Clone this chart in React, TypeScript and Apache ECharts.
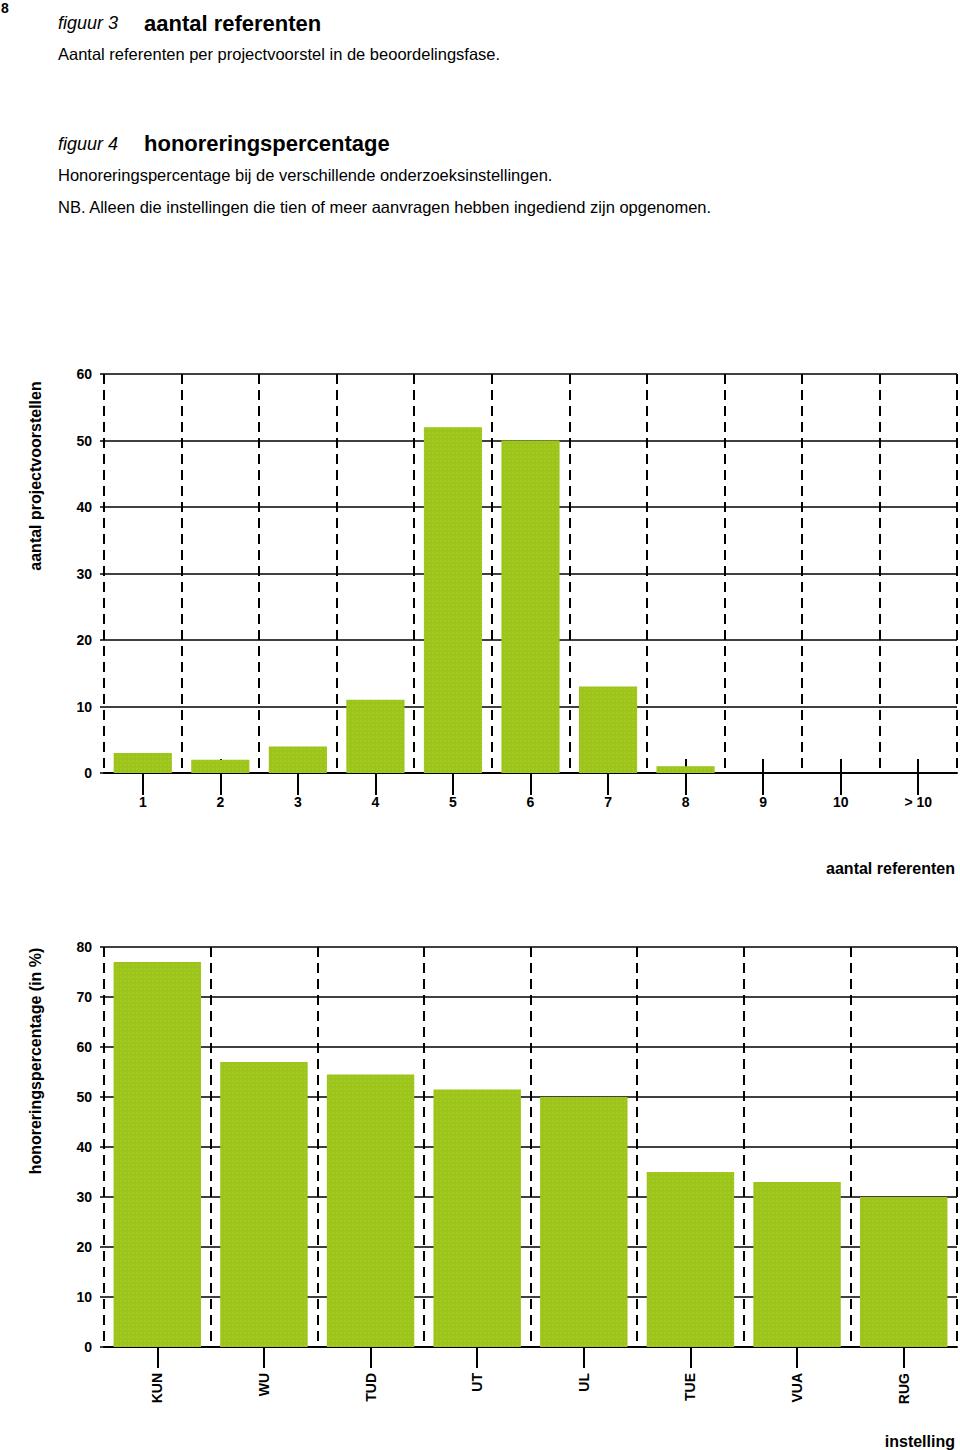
import React, { useEffect, useRef } from "react";
import * as echarts from "echarts";

// ---- data ----
const refCategories = ["1", "2", "3", "4", "5", "6", "7", "8", "9", "10", "> 10"];
const refValues = [3, 2, 4, 11, 52, 50, 13, 1, 0, 0, 0];
const refYMin = 0;
const refYMax = 60;
const refYInterval = 10;

const instCategories = ["KUN", "WU", "TUD", "UT", "UL", "TUE", "VUA", "RUG"];
const instValues = [77, 57, 54.5, 51.5, 50, 35, 33, 30];
const instYMin = 0;
const instYMax = 80;
const instYInterval = 10;

const FONT = "Liberation Sans, Arial, Helvetica, sans-serif";

export default function App() {
  const ref = useRef<HTMLDivElement>(null);

  useEffect(() => {
    if (!ref.current) return;
    const chart = echarts.init(ref.current, undefined, { renderer: "svg" });

    const dashed = { color: "#000", width: 2, type: [10, 6] as any };
    const solid = { color: "#000", width: 1.5 };
    const labelFont = { fontFamily: FONT, fontWeight: "bold" as const, fontSize: 14, color: "#000" };
    const barStyle = {
      color: "#9cc41a",
      decal: {
        symbol: "rect",
        symbolSize: 0.6,
        dashArrayX: 2,
        dashArrayY: 2,
        color: "rgba(200,232,80,0.55)",
      },
    };

    const mainX = (gridIndex: number, data: string[], outLen: number, margin: number, rotate: number) => ({
      type: "category",
      gridIndex,
      data,
      position: "bottom",
      boundaryGap: true,
      axisLine: { show: true, lineStyle: { color: "#000", width: 2 } },
      axisTick: { show: true, alignWithLabel: true, length: outLen, lineStyle: { color: "#000", width: 2 } },
      axisLabel: { ...labelFont, margin, interval: 0, rotate },
      splitLine: { show: true, interval: 0, lineStyle: dashed },
    });
    const helperX = (gridIndex: number, data: string[], inLen: number) => ({
      type: "category",
      gridIndex,
      data,
      position: "bottom",
      boundaryGap: true,
      axisLine: { show: true, lineStyle: { color: "#000", width: 0, opacity: 0 } },
      axisTick: { show: true, inside: true, alignWithLabel: true, length: inLen, lineStyle: { color: "#000", width: 2 } },
      axisLabel: { show: false },
      splitLine: { show: false },
    });
    const yAx = (gridIndex: number, min: number, max: number, interval: number) => ({
      type: "value",
      gridIndex,
      min,
      max,
      interval,
      axisLine: { show: false },
      axisTick: { show: true, length: 4, lineStyle: { color: "#000", width: 1.5 } },
      axisLabel: { ...labelFont, margin: 12 },
      splitLine: { show: true, lineStyle: solid },
    });

    const txt = (text: string, x: number, y: number, size: number, opts: any = {}) => ({
      type: "text",
      x,
      y,
      rotation: opts.rotation || 0,
      style: {
        text,
        fontFamily: FONT,
        fontSize: size,
        fontWeight: opts.weight || "normal",
        fontStyle: opts.style || "normal",
        fill: "#000",
        align: opts.align || "left",
        verticalAlign: "middle",
      },
    });

    chart.setOption({
      animation: false,
      backgroundColor: "#ffffff",
      grid: [
        { left: 104, right: 3, top: 374, height: 399 },
        { left: 104, right: 3, top: 947, height: 400 },
      ],
      xAxis: [
        mainX(0, refCategories, 22, 22, 0),
        helperX(0, refCategories, 14),
        mainX(1, instCategories, 21, 26, 90),
        helperX(1, instCategories, 9),
      ],
      yAxis: [yAx(0, refYMin, refYMax, refYInterval), yAx(1, instYMin, instYMax, instYInterval)],
      series: [
        {
          type: "bar",
          xAxisIndex: 0,
          yAxisIndex: 0,
          data: refValues,
          barCategoryGap: "25%",
          itemStyle: barStyle,
          z: 5,
        },
        {
          type: "bar",
          xAxisIndex: 2,
          yAxisIndex: 1,
          data: instValues,
          barCategoryGap: "18%",
          itemStyle: barStyle,
          z: 5,
        },
      ],
      graphic: [
        txt("8", 1, 8, 14, { weight: "bold" }),
        txt("figuur 3", 58, 23, 18, { style: "italic" }),
        txt("aantal referenten", 144, 23, 22, { weight: "bold" }),
        txt("Aantal referenten per projectvoorstel in de beoordelingsfase.", 58, 54, 16.5),
        txt("figuur 4", 58, 144, 18, { style: "italic" }),
        txt("honoreringspercentage", 144, 143, 22, { weight: "bold" }),
        txt("Honoreringspercentage bij de verschillende onderzoeksinstellingen.", 58, 175, 16.5),
        txt("NB. Alleen die instellingen die tien of meer aanvragen hebben ingediend zijn opgenomen.", 58, 207, 16.5),
        txt("aantal projectvoorstellen", 35, 476, 16, { weight: "bold", rotation: Math.PI / 2, align: "center" }),
        txt("honoreringspercentage (in %)", 35, 1061, 16, { weight: "bold", rotation: Math.PI / 2, align: "center" }),
        txt("aantal referenten", 955, 868, 16, { weight: "bold", align: "right" }),
        txt("instelling", 955, 1441, 16, { weight: "bold", align: "right" }),
      ],
    });

    return () => chart.dispose();
  }, []);

  return (
    <div
      ref={ref}
      style={{ position: "absolute", left: 0, top: 0, width: 960, height: 1450 }}
    />
  );
}
